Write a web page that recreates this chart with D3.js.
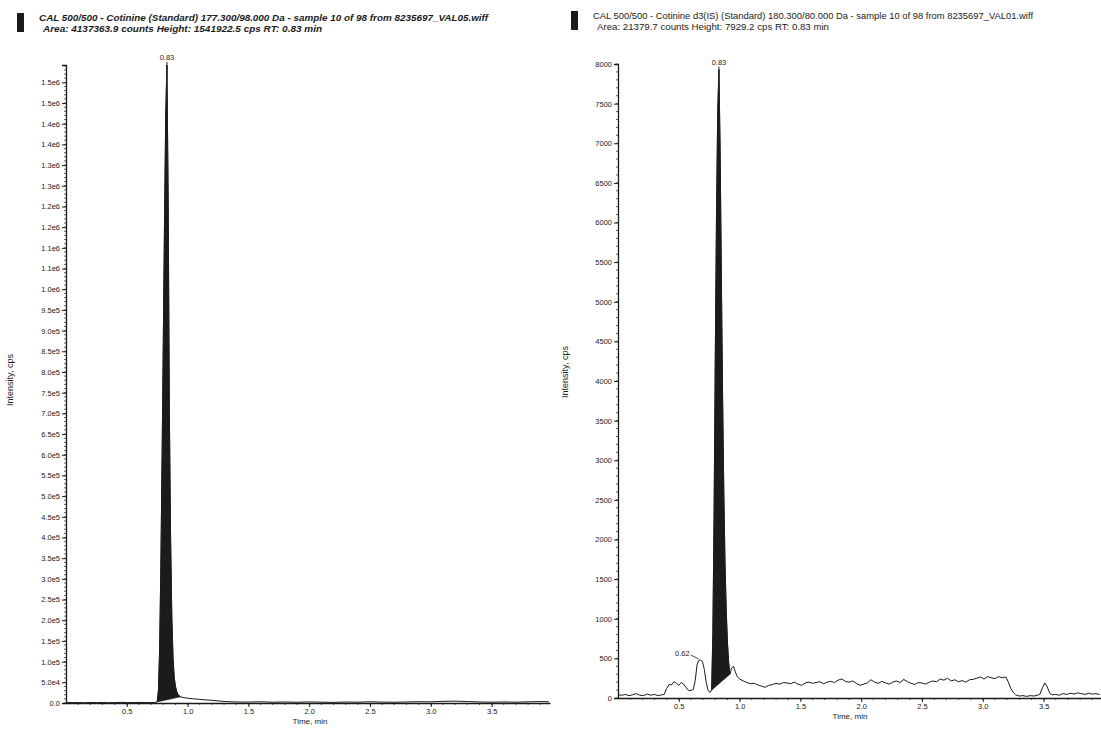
<!DOCTYPE html>
<html>
<head>
<meta charset="utf-8">
<script src="https://cdn.jsdelivr.net/npm/d3@7"></script>
<style>
  html, body { margin: 0; padding: 0; background: #fff; }
  svg { display: block; font-family: "Liberation Sans", Arial, sans-serif; }
</style>
</head>
<body>
<svg id="chart" width="1101" height="729"></svg>
<script>
// ---------------- DATA ----------------
const leftTitle1 = "CAL 500/500 - Cotinine (Standard) 177.300/98.000 Da - sample 10 of 98 from 8235697_VAL05.wiff";
const leftTitle2 = "Area: 4137363.9 counts Height: 1541922.5 cps RT: 0.83 min";
const rightTitle1 = "CAL 500/500 - Cotinine d3(IS) (Standard) 180.300/80.000 Da - sample 10 of 98 from 8235697_VAL01.wiff";
const rightTitle2 = "Area: 21379.7 counts Height: 7929.2 cps RT: 0.83 min";
const xTitle = "Time, min";
const yTitle = "Intensity, cps";

const timeMax = 3.98;
const xTickValues = [0.5, 1.0, 1.5, 2.0, 2.5, 3.0, 3.5];
const xTickLabels = ["0.5", "1.0", "1.5", "2.0", "2.5", "3.0", "3.5"];

const leftYMax = 1541922.5;
const leftYTickValues = [0, 5e4, 1e5, 1.5e5, 2e5, 2.5e5, 3e5, 3.5e5, 4e5, 4.5e5, 5e5, 5.5e5, 6e5, 6.5e5, 7e5, 7.5e5,
  8e5, 8.5e5, 9e5, 9.5e5, 1e6, 1.05e6, 1.1e6, 1.15e6, 1.2e6, 1.25e6, 1.3e6, 1.35e6, 1.4e6, 1.45e6, 1.5e6];
const leftYTickLabels = ["0.0", "5.0e4", "1.0e5", "1.5e5", "2.0e5", "2.5e5", "3.0e5", "3.5e5", "4.0e5", "4.5e5", "5.0e5",
  "5.5e5", "6.0e5", "6.5e5", "7.0e5", "7.5e5", "8.0e5", "8.5e5", "9.0e5", "9.5e5", "1.0e6", "1.1e6", "1.1e6", "1.2e6",
  "1.2e6", "1.3e6", "1.3e6", "1.4e6", "1.4e6", "1.5e6", "1.5e6"];

const rightYMax = 8000;
const rightYTickValues = [0, 500, 1000, 1500, 2000, 2500, 3000, 3500, 4000, 4500, 5000, 5500, 6000, 6500, 7000, 7500, 8000];
const rightYTickLabels = ["0", "500", "1000", "1500", "2000", "2500", "3000", "3500", "4000", "4500", "5000", "5500",
  "6000", "6500", "7000", "7500", "8000"];

// Cotinine trace (left)
const leftTime = [0.00, 0.05, 0.10, 0.15, 0.20, 0.25, 0.30, 0.35, 0.40, 0.45, 0.50, 0.55, 0.60, 0.65, 0.70, 0.74,
  0.75, 0.76, 0.77, 0.78, 0.79, 0.80, 0.81, 0.82, 0.83, 0.84, 0.85, 0.86, 0.87, 0.88, 0.89, 0.90, 0.91, 0.92,
  0.94, 0.97, 1.00, 1.05, 1.10, 1.15, 1.20, 1.25, 1.30, 1.35, 1.40, 1.50, 1.60, 1.70, 1.80, 1.90, 2.00, 2.10,
  2.20, 2.30, 2.40, 2.50, 2.60, 2.70, 2.80, 2.90, 3.00, 3.10, 3.20, 3.30, 3.40, 3.50, 3.60, 3.70, 3.80, 3.90, 3.97];
const leftIntensity = [1500, 800, 1200, 600, 1500, 900, 1300, 700, 1100, 1600, 900, 1200, 1400, 1000, 1300, 1500,
  3000, 30000, 130000, 330000, 590000, 870000, 1160000, 1420000, 1541922, 1220000, 700000, 400000, 210000, 110000,
  62000, 40000, 28000, 21000,
  15000, 13000, 11500, 10000, 8800, 7500, 6500, 5000, 3800, 3000, 2500, 2200, 3000, 2000, 2500, 1800, 2600, 2000,
  1500, 2400, 2000, 3000, 2200, 1800, 2500, 3200, 2800, 4000, 4500, 3500, 2500, 2000, 2600, 2000, 2800, 3500, 3000];
const leftPeakApex = 0.83;
const leftPeakLabel = "0.83";
const leftIntegration = [0.75, 0.94];

// Cotinine-d3 trace (right)
const rightTime = [0.00, 0.03, 0.06, 0.09, 0.12, 0.15, 0.18, 0.21, 0.24, 0.27, 0.30, 0.33, 0.36, 0.38, 0.40, 0.42,
  0.44, 0.46, 0.48, 0.50, 0.52, 0.54, 0.56, 0.58, 0.60, 0.62, 0.635, 0.65, 0.665, 0.68, 0.695, 0.71, 0.725, 0.74,
  0.755, 0.77, 0.78, 0.79, 0.80, 0.81, 0.82, 0.83, 0.84, 0.85, 0.86, 0.87, 0.88, 0.89, 0.90, 0.91, 0.92, 0.935,
  0.95, 0.965, 0.98, 1.00, 1.03, 1.06, 1.09, 1.12, 1.15, 1.18, 1.21, 1.24, 1.27, 1.30, 1.33, 1.36, 1.39, 1.42,
  1.45, 1.48, 1.51, 1.54, 1.57, 1.60, 1.63, 1.66, 1.69, 1.72, 1.75, 1.78, 1.81, 1.84, 1.87, 1.90, 1.93, 1.96,
  1.99, 2.02, 2.05, 2.08, 2.11, 2.14, 2.17, 2.20, 2.23, 2.26, 2.29, 2.32, 2.35, 2.38, 2.41, 2.44, 2.47, 2.50,
  2.53, 2.56, 2.59, 2.62, 2.65, 2.68, 2.71, 2.74, 2.77, 2.80, 2.83, 2.86, 2.89, 2.92, 2.95, 2.98, 3.01, 3.04,
  3.07, 3.10, 3.13, 3.16, 3.19, 3.21, 3.23, 3.25, 3.27, 3.30, 3.33, 3.36, 3.39, 3.42, 3.45, 3.47, 3.49, 3.51,
  3.53, 3.55, 3.57, 3.60, 3.63, 3.66, 3.69, 3.72, 3.75, 3.78, 3.81, 3.84, 3.87, 3.90, 3.93, 3.96];
const rightIntensity = [40, 35, 45, 30, 40, 55, 35, 30, 50, 35, 45, 30, 40, 45, 120, 170,
  165, 205, 185, 160, 195, 175, 130, 95, 95, 110, 220, 420, 475, 480, 455, 360, 200, 100,
  70, 100, 800, 2300, 4300, 6100, 7400, 7929, 6900, 5300, 3800, 2600, 1700, 1100, 700, 450, 300, 380,
  400, 330, 270, 240, 215, 195, 180, 185, 165, 150, 135, 160, 170, 185, 175, 195, 190, 180,
  200, 175, 160, 190, 200, 185, 195, 205, 180, 200, 210, 195, 225, 240, 210, 200, 215, 185,
  160, 175, 190, 230, 200, 185, 210, 190, 175, 200, 215, 195, 235, 205, 185, 170, 195, 190,
  175, 200, 215, 205, 240, 225, 250, 215, 230, 205, 220, 200, 230, 235, 250, 265, 240, 270,
  255, 245, 270, 255, 265, 200, 120, 70, 40, 25, 30, 20, 30, 25, 35, 50, 130, 190,
  140, 60, 40, 45, 35, 55, 45, 60, 50, 65, 55, 45, 60, 50, 55, 45];
const rightPeakApex = 0.83;
const rightPeakLabel = "0.83";
const rightMinorApex = 0.68;
const rightMinorLabel = "0.62";
const rightIntegration = [0.77, 0.92];

// ---------------- DRAW ----------------
const svg = d3.select("#chart");
const ink = "#1b1b1b";

function header(x, y, line1, line2, len1, len2, italic) {
  const g = svg.append("g");
  g.append("rect").attr("x", x).attr("y", y).attr("width", 7).attr("height", 19).attr("fill", ink);
  g.append("text").attr("x", x + 22).attr("y", y + 8)
    .attr("font-size", 9.5).attr("fill", ink)
    .attr("font-style", italic ? "italic" : "normal").attr("font-weight", italic ? "bold" : "normal")
    .attr("textLength", len1).attr("lengthAdjust", "spacingAndGlyphs").text(line1);
  g.append("text").attr("x", x + 26).attr("y", y + 19)
    .attr("font-size", 9.5).attr("fill", ink)
    .attr("font-style", italic ? "italic" : "normal").attr("font-weight", italic ? "bold" : "normal")
    .attr("textLength", len2).attr("lengthAdjust", "spacingAndGlyphs").text(line2);
}

function nearest(pts, t) {
  return d3.least(pts, p => Math.abs(p.t - t));
}

function panel(cfg) {
  const x = d3.scaleLinear().domain([0, timeMax]).range(cfg.xRange);
  const y = d3.scaleLinear().domain([0, cfg.yMax]).range(cfg.yRange);
  const g = svg.append("g");
  const pts = cfg.time.map((t, i) => ({ t, v: cfg.val[i] }));

  // integration fill
  const [i0, i1] = cfg.integ;
  const p0 = nearest(pts, i0), p1 = nearest(pts, i1);
  const base = t => p0.v + (p1.v - p0.v) * (t - p0.t) / (p1.t - p0.t);
  const seg = pts.filter(p => p.t >= p0.t && p.t <= p1.t);
  g.append("path").datum(seg)
    .attr("d", d3.area().x(p => x(p.t)).y0(p => y(base(p.t))).y1(p => y(p.v)))
    .attr("fill", ink).attr("stroke", ink).attr("stroke-width", 0.8);

  // trace
  g.append("path").datum(pts)
    .attr("d", d3.line().x(p => x(p.t)).y(p => y(p.v)))
    .attr("fill", "none").attr("stroke", ink).attr("stroke-width", 1);

  // y axis
  const yMinor = d3.range(0, cfg.yMax + 1e-6, cfg.yMinorStep);
  const yAxis = d3.axisLeft(y).tickValues(cfg.yTicks)
    .tickFormat((d, i) => cfg.yLabels[i]).tickSize(4).tickPadding(2);
  const ga = g.append("g").attr("transform", `translate(${cfg.xRange[0]},0)`).call(yAxis);
  ga.select(".domain").attr("stroke", ink).attr("stroke-width", 1.3);
  ga.selectAll(".tick line").attr("stroke", ink);
  ga.selectAll(".tick text").attr("font-size", 7.5).attr("fill", ink)
    .attr("font-family", "Liberation Sans, Arial, sans-serif");
  g.append("g").selectAll("line").data(yMinor).join("line")
    .attr("x1", cfg.xRange[0] - 2).attr("x2", cfg.xRange[0])
    .attr("y1", d => y(d)).attr("y2", d => y(d)).attr("stroke", ink).attr("stroke-width", 0.7);

  // x axis
  const xAxis = d3.axisBottom(x).tickValues(xTickValues)
    .tickFormat((d, i) => xTickLabels[i]).tickSize(4).tickPadding(2).tickSizeOuter(0);
  const gx = g.append("g").attr("transform", `translate(0,${cfg.yRange[0]})`).call(xAxis);
  gx.select(".domain").attr("stroke", ink).attr("stroke-width", 1.3);
  gx.selectAll(".tick line").attr("stroke", ink);
  gx.selectAll(".tick text").attr("font-size", 7.5).attr("fill", ink)
    .attr("font-family", "Liberation Sans, Arial, sans-serif");
  g.append("g").selectAll("line").data(d3.range(0.1, timeMax, 0.1)).join("line")
    .attr("x1", d => x(d)).attr("x2", d => x(d))
    .attr("y1", cfg.yRange[0]).attr("y2", cfg.yRange[0] + 2)
    .attr("stroke", ink).attr("stroke-width", 0.7);

  // titles
  g.append("text").attr("x", (cfg.xRange[0] + cfg.xRange[1]) / 2 - cfg.xTitleShift)
    .attr("y", cfg.yRange[0] + 21).attr("text-anchor", "middle")
    .attr("font-size", 8).attr("fill", ink).text(xTitle);
  g.append("text")
    .attr("transform", `translate(${cfg.yTitleX},${cfg.yTitleY}) rotate(-90)`)
    .attr("text-anchor", "middle").attr("font-size", 9).attr("fill", ink).text(yTitle);

  // peak labels
  cfg.labels.forEach(L => {
    const p = nearest(pts, L.t);
    const px = x(p.t), py = y(p.v);
    if (L.leader) {
      g.append("line").attr("x1", px - 10).attr("y1", py - 5).attr("x2", px - 2).attr("y2", py - 1)
        .attr("stroke", ink).attr("stroke-width", 0.8);
      g.append("text").attr("x", px - 11).attr("y", py - 4).attr("text-anchor", "end")
        .attr("font-size", 7.5).attr("fill", ink).text(L.text);
    } else {
      g.append("line").attr("x1", px).attr("x2", px).attr("y1", py).attr("y2", py - 3)
        .attr("stroke", ink).attr("stroke-width", 1);
      g.append("text").attr("x", px).attr("y", py - 5).attr("text-anchor", "middle")
        .attr("font-size", 7.5).attr("fill", ink).text(L.text);
    }
  });
}

header(17, 13, leftTitle1, leftTitle2, 449, 279, true);
header(571, 11, rightTitle1, rightTitle2, 440, 232, false);

panel({
  time: leftTime, val: leftIntensity, integ: leftIntegration,
  xRange: [66, 550], yRange: [703, 65], yMax: leftYMax,
  yTicks: leftYTickValues, yLabels: leftYTickLabels, yMinorStep: 1e4,
  xTitleShift: -2, yTitleX: 13, yTitleY: 380,
  labels: [{ t: leftPeakApex, text: leftPeakLabel }]
});

panel({
  time: rightTime, val: rightIntensity, integ: rightIntegration,
  xRange: [618, 1102], yRange: [698, 64], yMax: rightYMax,
  yTicks: rightYTickValues, yLabels: rightYTickLabels, yMinorStep: 100,
  xTitleShift: 10, yTitleX: 568, yTitleY: 372,
  labels: [{ t: rightPeakApex, text: rightPeakLabel }, { t: rightMinorApex, text: rightMinorLabel, leader: true }]
});
</script>
</body>
</html>
